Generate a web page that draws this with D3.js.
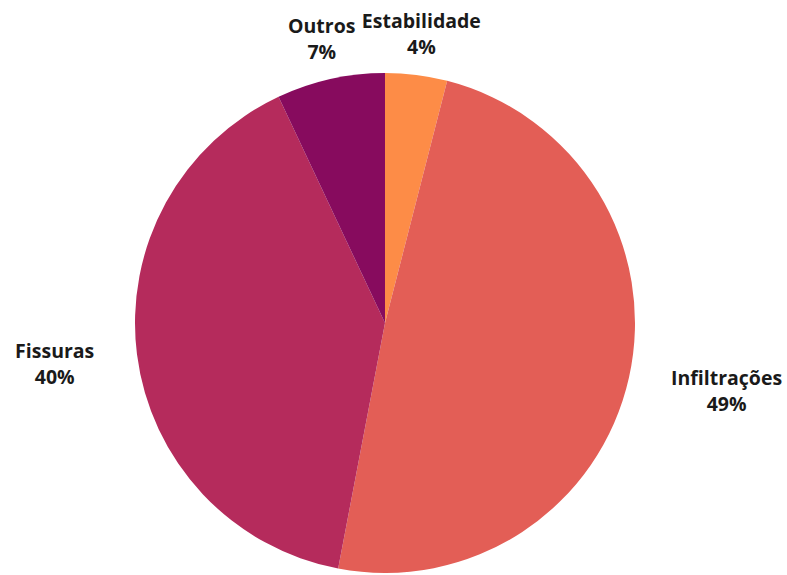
<!DOCTYPE html>
<html>
<head>
<meta charset="utf-8">
<script src="https://cdn.jsdelivr.net/npm/d3@7"></script>
<style>
  body { margin: 0; background: #ffffff; }
</style>
</head>
<body>
<div id="vis"></div>
<script>
// Problem categories and their share (%)
const categories = ["Estabilidade", "Infiltrações", "Fissuras", "Outros"];
const values = [4, 49, 40, 7];
const colors = ["#fd8c47", "#e35e56", "#b52b5c", "#870b5e"];

const width = 787;
const height = 575;
const cx = 385, cy = 323;
const radius = 250;
const labelRadius = 290;

const data = categories.map((c, i) => ({ name: c, value: values[i], color: colors[i] }));

const svg = d3.select("#vis")
  .append("svg")
  .attr("width", width)
  .attr("height", height);

const g = svg.append("g")
  .attr("transform", `translate(${cx},${cy})`);

const pie = d3.pie()
  .value(d => d.value)
  .sort(null);

const arc = d3.arc()
  .innerRadius(0)
  .outerRadius(radius);

const arcs = pie(data);

g.selectAll("path.slice")
  .data(arcs)
  .enter()
  .append("path")
  .attr("class", "slice")
  .attr("d", arc)
  .attr("fill", d => d.data.color);

// which side of the pie a label sits on
function side(d) {
  const s = Math.sin((d.startAngle + d.endAngle) / 2);
  if (Math.abs(s) < 0.5) return 0;
  return s > 0 ? 1 : -1;
}

// Labels outside the pie: name, then percentage centred under it
const labels = g.selectAll("g.label")
  .data(arcs)
  .enter()
  .append("g")
  .attr("class", "label")
  .attr("transform", d => {
    const a = (d.startAngle + d.endAngle) / 2;
    const x = labelRadius * Math.sin(a) + side(d) * 3;
    const y = -labelRadius * Math.cos(a) + (side(d) === 0 ? -7 : -1);
    return `translate(${x},${y})`;
  });

labels.each(function(d) {
  const lg = d3.select(this);
  const name = lg.append("text")
    .attr("fill", "#1a1a1a")
    .style("font-family", "'Open Sans', sans-serif")
    .style("font-weight", "bold")
    .style("font-size", "19.5px")
    .attr("text-anchor", side(d) === 0 ? "middle" : (side(d) > 0 ? "start" : "end"))
    .text(d.data.name);

  const w = name.node().getComputedTextLength();
  const mid = side(d) === 0 ? 0 : side(d) * w / 2;

  lg.append("text")
    .attr("fill", "#1a1a1a")
    .style("font-family", "'Open Sans', sans-serif")
    .style("font-weight", "bold")
    .style("font-size", "19.5px")
    .attr("text-anchor", "middle")
    .attr("x", mid)
    .attr("y", 26)
    .text(d.data.value + "%");
});
</script>
</body>
</html>
